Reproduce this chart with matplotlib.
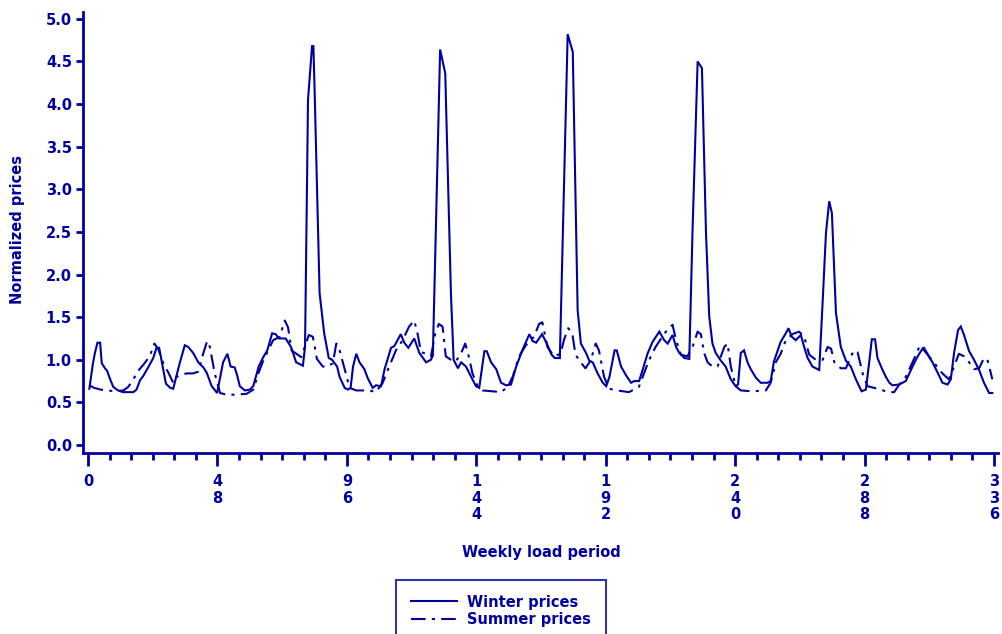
import matplotlib
matplotlib.use("Agg")
import matplotlib.pyplot as plt
from matplotlib.lines import Line2D

# ---------------- data ----------------
winter_x = [0.5, 1.8, 2.5, 3.5, 4.5, 5.1, 6.3, 7.1, 8.1, 9.4, 11.2, 13, 16.8, 18, 19.3, 20.5, 22.3, 24.2,
            25.4, 26.4, 27.3, 28.9, 30.5, 31.6, 34.1, 35.9, 37.2, 39, 40.9, 42.8, 44, 45.9, 47.9, 50.1,
            51.7, 52.9, 54.4, 55.3, 56.3, 58.2, 60, 61.3, 63.3, 65, 66.5, 68.3, 69.6, 70.8, 73.3, 75.3,
            77.2, 79.7, 80.5, 81.6, 83.1, 83.6, 84.1, 85.9, 87.6, 89.3, 90.5, 92.4, 93.3, 95.2, 96.4,
            97.4, 98.3, 99.5, 100.7, 102.5, 103.8, 105.6, 106.8, 108.7, 110, 112.4, 113.6, 116, 117.3,
            118.8, 121, 122.9, 125.4, 127.2, 127.9, 130.6, 132.5, 134.6, 135.6, 137.2, 138.4, 140.2,
            142.1, 143.9, 145.1, 147.0, 147.9, 149.5, 151.4, 153.2, 155.1, 156.9, 158.8, 161.2, 163.7,
            164.9, 166.2, 168.4, 170, 171.9, 173.1, 175, 177.9, 179.8, 181.6, 182.8, 184.7, 185.9, 187.2,
            189, 190.9, 192.2, 193.4, 195.3, 196.1, 197.7, 199.5, 201.4, 202.6, 204.4, 205.7, 207.5,
            209.4, 211.9, 213.7, 215, 216.8, 218.1, 219.3, 221.2, 223, 224.2, 226.1, 227.7, 229.2, 230.4,
            231.6, 232.8, 234.7, 236.5, 238.4, 240.2, 241.1, 242.1, 243.3, 244.6, 245.8, 247.7, 249.5,
            252, 253.2, 254.4, 256.9, 258.8, 259.8, 261, 262.5, 264.4, 265.6, 266.9, 268.7, 271.2, 272.5,
            273.7, 274.9, 275.9, 277.4, 279.2, 281.1, 282.9, 284.8, 286.9, 288.5, 289.8, 290.7, 291.9,
            292.8, 294.4, 295.9, 297.2, 298.4, 300.9, 303.3, 305.8, 307.7, 309.5, 311.4, 313.2, 315.1,
            316.9, 318.8, 320, 321.2, 322.7, 323.7, 324.9, 326.8, 328.6, 330.5, 332.3, 334.2, 335.4]
winter_y = [0.66, 0.95, 1.07, 1.20, 1.20, 0.96, 0.90, 0.87, 0.78, 0.68, 0.64, 0.62, 0.62, 0.65, 0.76, 0.81, 0.91, 1.02,
            1.14, 1.14, 0.99, 0.72, 0.67, 0.66, 0.97, 1.17, 1.15, 1.08, 0.97, 0.91, 0.85, 0.69, 0.61, 0.97,
            1.07, 0.92, 0.91, 0.82, 0.69, 0.64, 0.65, 0.69, 0.92, 1.03, 1.11, 1.31, 1.30, 1.25, 1.25, 1.15,
            0.97, 0.93, 1.15, 4.05, 4.68, 4.68, 4.10, 1.78, 1.31, 1.02, 1.00, 0.92, 0.80, 0.67, 0.65,
            0.67, 0.92, 1.07, 0.97, 0.89, 0.78, 0.67, 0.70, 0.69, 0.89, 1.14, 1.16, 1.30, 1.20,
            1.14, 1.25, 1.08, 0.97, 1.00, 1.05, 4.64, 4.36, 1.78, 1.00, 0.90, 0.97, 0.92,
            0.80, 0.69, 0.67, 1.10, 1.10, 0.97, 0.89, 0.73, 0.70, 0.71, 0.92, 1.12, 1.30,
            1.22, 1.20, 1.30, 1.20, 1.06, 1.02, 1.02, 4.82, 4.61, 1.58, 1.19, 1.08, 0.99, 0.97,
            0.84, 0.73, 0.69, 0.80, 1.11, 1.11, 0.92, 0.82, 0.73, 0.75, 0.75, 0.88, 1.07,
            1.21, 1.33, 1.23, 1.19, 1.29, 1.15, 1.08, 1.02, 1.01, 2.50, 4.50, 4.42, 2.49, 1.51,
            1.19, 1.08, 0.99, 0.92, 0.77, 0.69, 0.71, 1.08, 1.11, 0.97, 0.89, 0.79, 0.73,
            0.73, 0.75, 0.98, 1.21, 1.31, 1.37, 1.27, 1.23, 1.29, 1.15, 1.02, 0.92, 0.88, 1.70,
            2.49, 2.86, 2.72, 1.55, 1.15, 0.99, 0.92, 0.77, 0.63, 0.65, 0.99, 1.24, 1.24,
            1.02, 0.90, 0.80, 0.73, 0.70, 0.71, 0.75, 0.92, 1.04, 1.13, 1.06, 0.97, 0.85,
            0.73, 0.71, 0.77, 1.08, 1.35, 1.39, 1.29, 1.10, 1.00, 0.88, 0.73, 0.61, 0.61]

summer_x = [0.5, 2.3, 4.7, 7.2, 10, 13.1, 14.9, 16.8, 18.6, 20.5, 22.9, 24.6, 26, 27.9, 29.8, 31.6, 32.8,
            34.7, 36.5, 39, 40.9, 42.8, 44.2, 45.2, 47.0, 49, 51.4, 53.8, 58.8, 61.3, 63.2, 65, 66.8,
            68.7, 71.1, 73, 74.2, 75.5, 77.3, 79.1, 80.3, 81.9, 83.4, 84.9, 87.1, 88.9, 90.8, 92.1,
            93.3, 95.2, 97, 99.5, 104.4, 106.8, 109.3, 111.7, 114.2, 116.7, 119.1, 121, 122.2, 123.5,
            125.4, 127.2, 128.8, 130.1, 131.5, 132.7, 134.6, 136.4, 138.3, 139.9, 141.2, 142.6, 144.5,
            146.3, 150, 153.2, 155.6, 157.5, 159.9, 162.4, 165.4, 167.3, 168.5, 170.4, 172.8, 175.3,
            176.5, 178.1, 179.6, 180.8, 182.7, 184.5, 186.4, 188.3, 189.5, 191.4, 193.2, 196.3, 200.6,
            204.3, 206.2, 208, 210.5, 213, 214.8, 216.8, 218.1, 219.9, 222.3, 224.2, 226.1, 227.3,
            228.5, 229.8, 231.6, 233.5, 234.7, 236, 237.2, 238.4, 240.2, 242.1, 246.4, 251.4, 253.2,
            255.1, 256.9, 258.8, 261.2, 263.7, 265.6, 267.5, 269.9, 272.5, 274.3, 275.6, 276.8, 279.2,
            281.1, 282.9, 284.2, 285.4, 287.3, 289.1, 291.6, 294.1, 296.5, 299, 300.9, 303.3, 305.8,
            308.3, 309.5, 311.9, 314.4, 316.9, 319.3, 321.2, 323, 324.9, 326.8, 328.6, 330.5, 332.3,
            333.6, 335.4]
summer_y = [0.70, 0.67, 0.65, 0.64, 0.63, 0.64, 0.68, 0.77, 0.87, 0.94, 1.04, 1.19, 1.13, 0.96, 0.85, 0.73, 0.80,
            0.82, 0.84, 0.84, 0.86, 1.08, 1.22, 1.15, 0.84, 0.61, 0.59, 0.59, 0.60, 0.65, 0.84, 0.99, 1.11,
            1.23, 1.27, 1.46, 1.38, 1.11, 1.07, 1.03, 1.14, 1.29, 1.27, 1.01, 0.92, 0.92, 0.96, 1.19,
            1.11, 0.89, 0.67, 0.64, 0.64, 0.62, 0.73, 0.92, 1.11, 1.23, 1.39, 1.46, 1.31, 1.09,
            1.07, 1.04, 1.31, 1.42, 1.39, 1.04, 1.00, 0.98, 1.07, 1.19, 1.04, 0.84, 0.69,
            0.64, 0.63, 0.62, 0.68, 0.80, 1.04, 1.17, 1.27, 1.42, 1.44, 1.15, 1.04, 1.07,
            1.23, 1.37, 1.31, 1.06, 0.97, 0.90, 0.99, 1.19, 1.11, 0.80, 0.66, 0.64, 0.62,
            0.68, 0.84, 0.99, 1.15, 1.27, 1.35, 1.41, 1.23, 1.06, 1.04, 1.15, 1.33, 1.30,
            1.08, 0.97, 0.92, 0.92, 1.04, 1.15, 1.19, 0.92, 0.69, 0.64, 0.63, 0.64, 0.73,
            0.97, 1.07, 1.23, 1.30, 1.33, 1.27, 1.06, 1.00, 1.00, 1.15, 1.13, 0.97, 0.90,
            0.90, 1.04, 1.11, 1.09, 0.84, 0.69, 0.67, 0.65, 0.62, 0.62, 0.71, 0.80, 0.97,
            1.15, 1.17, 1.04, 0.94, 0.84, 0.77, 0.92, 1.07, 1.04, 0.97, 0.89, 0.90, 1.02,
            1.00, 0.77]

series_labels = ["Winter prices", "Summer prices"]
x_major_ticks = [0, 48, 96, 144, 192, 240, 288, 336]
y_ticks = [0.0, 0.5, 1.0, 1.5, 2.0, 2.5, 3.0, 3.5, 4.0, 4.5, 5.0]
x_title = "Weekly load period"
y_title = "Normalized prices"

# ---------------- style ----------------
BLUE = "#0000a0"
FS = 10.5
DASH = (7, 3, 1.5, 3)
plt.rcParams["font.family"] = ["DejaVu Sans"]
plt.rcParams["font.weight"] = "bold"

fig = plt.figure(figsize=(10.02, 6.34), dpi=100)
ax = fig.add_axes([83 / 1002, 1 - 453 / 634, (998 - 83) / 1002, (453 - 12) / 634])

ax.plot(winter_x, winter_y, color=BLUE, lw=1.5, solid_joinstyle="miter")
ax.plot(summer_x, summer_y, color=BLUE, lw=1.5, dashes=DASH)

ax.set_xlim(-1.85, 337.5)
ax.set_ylim(-0.094, 5.08)

for s in ["top", "right"]:
    ax.spines[s].set_visible(False)
for s in ["left", "bottom"]:
    ax.spines[s].set_color(BLUE)
    ax.spines[s].set_linewidth(2.0)

ax.set_xticks(x_major_ticks)
ax.set_xticklabels(["\n".join(str(v)) for v in x_major_ticks], linespacing=1.15,
                   fontsize=FS, fontweight="bold", color=BLUE)
ax.set_xticks(list(range(0, 337, 8)), minor=True)
ax.set_yticks(y_ticks)
ax.set_yticklabels([f"{v:.1f}" for v in y_ticks], fontsize=FS, fontweight="bold", color=BLUE)

ax.tick_params(axis="x", which="major", direction="out", length=9, width=2, color=BLUE, pad=6)
ax.tick_params(axis="x", which="minor", direction="out", length=5, width=2, color=BLUE)
ax.tick_params(axis="y", which="major", direction="out", length=5, width=2, color=BLUE, pad=3)

fig.text(541 / 1002, 1 - 553 / 634, x_title, ha="center", va="center",
         fontsize=FS, fontweight="bold", color=BLUE)
fig.text(18 / 1002, 1 - 230 / 634, y_title, ha="center", va="center", rotation=90,
         fontsize=FS, fontweight="bold", color=BLUE)

handles = [Line2D([], [], color=BLUE, lw=1.5),
           Line2D([], [], color=BLUE, lw=1.5, dashes=DASH)]
leg = fig.legend(handles, series_labels, loc="upper left",
                 bbox_to_anchor=(396 / 1002, 1 - 580 / 634), bbox_transform=fig.transFigure,
                 borderaxespad=0, frameon=True, fancybox=False, handlelength=3.2, handletextpad=0.7,
                 borderpad=1.0, labelspacing=0.15, prop={"size": FS, "weight": "bold"})
leg.get_frame().set_edgecolor(BLUE)
leg.get_frame().set_linewidth(1.5)
for t in leg.get_texts():
    t.set_color(BLUE)

fig.savefig("out.png", dpi=100)
